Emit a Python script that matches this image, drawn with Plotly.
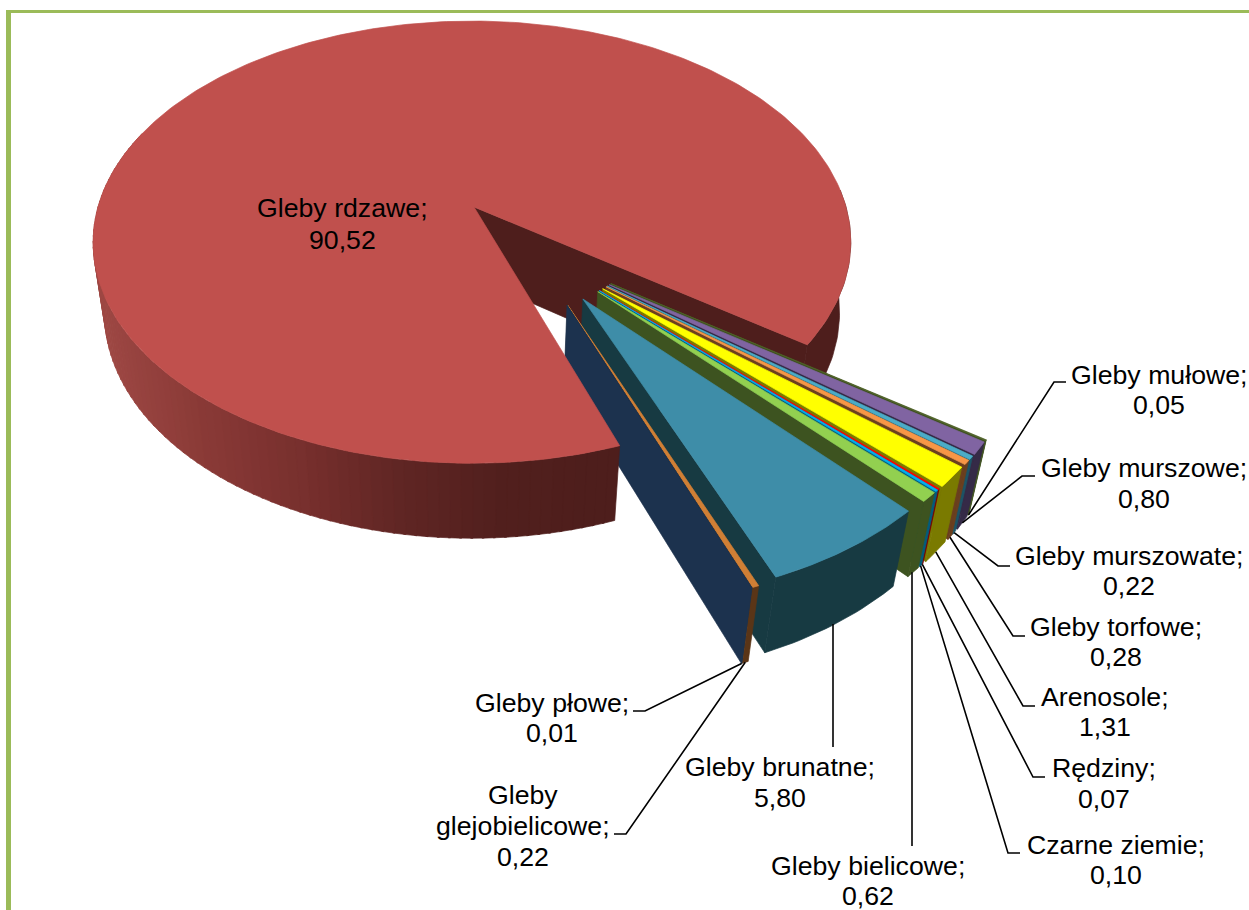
import math
import plotly.graph_objects as go

# ---- data ----
MAIN_CATEGORY = "Gleby rdzawe;"
MAIN_VALUE = 90.52
CATEGORIES = ["Gleby mułowe;", "Gleby murszowe;", "Gleby murszowate;", "Gleby torfowe;",
              "Arenosole;", "Rędziny;", "Czarne ziemie;", "Gleby bielicowe;",
              "Gleby brunatne;", "Gleby glejobielicowe;", "Gleby płowe;"]
VALUES = [0.05, 0.80, 0.22, 0.28, 1.31, 0.07, 0.10, 0.62, 5.80, 0.22, 0.01]

# ---- styles ----
TOP_COLORS = ["#4f6228", "#8064a2", "#4bacc6", "#f79646", "#ffff00", "#ff0000",
              "#00b0f0", "#92d050", "#3e8da8", "#d07f35", "#1c324e"]
WALL_COLORS = ["#3f5120", "#352a47", "#1d5566", "#6b3f1e", "#7a7a00", "#7a0000",
               "#005f80", "#3d5320", "#173a42", "#5a3517", "#1c324e"]
MAIN_TOP = "#c0504d"
MAIN_DARK = (78, 30, 28)
SHADE_X = [100, 200, 300, 400, 500, 600]
SHADE_RGB = [(158, 72, 68), (138, 58, 55), (120, 48, 46), (96, 38, 36), (82, 32, 30), (78, 30, 28)]

# ---- projection of the tilted pie ----
CX, CY = 474.0, 207.0
F, K = 374.0, 0.159
MAIN_G, SLICE_G = 215.5, 218.3
H, N = 73.0, 0.03
START = 35.1
SPREAD = 1.015
MAIN_R, SLICE_R = 1.0, 1.008
MAIN_OX = -0.0053
TRIM_START, TRIM_END = 0.6, -0.4
EXPLODE = 0.48


def project(u, v, z=0.0, g=MAIN_G):
    w = 1 - K * v + N * z
    return CX + F * u / w, CY + (g * v + H * z) / w


def polar(a, r, ox=0.0, oy=0.0):
    t = math.radians(a)
    return ox + r * math.cos(t), oy + r * math.sin(t)


fig = go.Figure()


def poly(points, color):
    xs = [p[0] for p in points] + [points[0][0]]
    ys = [p[1] for p in points] + [points[0][1]]
    fig.add_trace(go.Scatter(x=xs, y=ys, mode="lines", fill="toself", fillcolor=color,
                             line=dict(color=color, width=0.7), hoverinfo="skip", showlegend=False))


def arc(a0, a1, r, ox=0.0, oy=0.0, z=0.0, step=1.0, g=MAIN_G):
    n = max(2, int(abs(a1 - a0) / step) + 1)
    return [project(*polar(a0 + (a1 - a0) * i / (n - 1), r, ox, oy), z, g) for i in range(n)]


def rim_quad(a0, a1, r, ox, oy, color, g=MAIN_G):
    poly(arc(a0, a1, r, ox, oy, 0, g=g) + arc(a1, a0, r, ox, oy, 1, g=g), color)


def radial_wall(a, r, ox, oy, color, rx=None, g=MAIN_G):
    e = polar(a, r, ox, oy)
    rx = ox if rx is None else rx
    poly([project(rx, oy, 0, g), project(*e, 0, g), project(*e, 1, g), project(rx, oy, 1, g)], color)


def shade(x):
    if x <= SHADE_X[0]:
        return "rgb(%d,%d,%d)" % SHADE_RGB[0]
    for i in range(len(SHADE_X) - 1):
        if x <= SHADE_X[i + 1]:
            t = (x - SHADE_X[i]) / (SHADE_X[i + 1] - SHADE_X[i])
            c = [SHADE_RGB[i][j] + (SHADE_RGB[i + 1][j] - SHADE_RGB[i][j]) * t for j in range(3)]
            return "rgb(%d,%d,%d)" % tuple(c)
    return "rgb(%d,%d,%d)" % SHADE_RGB[-1]


small_total = sum(VALUES)
DEG = 3.6 * SPREAD
main_start = START + small_total * DEG + TRIM_START
main_end = START + 360 - TRIM_END
dark = "rgb(%d,%d,%d)" % MAIN_DARK

# back parts of the main slice, behind the exploded slices
radial_wall(main_end, MAIN_R, MAIN_OX, 0, dark, rx=0.0)
rim_quad(main_end - 360 - 40, main_end - 360, MAIN_R, MAIN_OX, 0, dark)

# exploded slices, back to front
mid_dir = START + small_total * DEG / 2
anchors = []
a = START
for value, top, wall in zip(VALUES, TOP_COLORS, WALL_COLORS):
    a1 = a + value * DEG
    b = (a + a1) / 2
    ox, oy = polar((b + mid_dir) / 2, EXPLODE)
    rim_quad(a, a1, SLICE_R, ox, oy, wall, g=SLICE_G)
    radial_wall(a1, SLICE_R, ox, oy, wall, g=SLICE_G)
    poly([project(ox, oy, 0, SLICE_G)] + arc(a, a1, SLICE_R, ox, oy, 0, 0.5, SLICE_G), top)
    anchors.append(project(*polar(b, SLICE_R, ox, oy), 1, SLICE_G))
    a = a1

# main slice front wall with its shading ramp, then its top
aa = main_start
while aa < 200:
    x_mid = project(*polar(aa + 0.75, MAIN_R, MAIN_OX))[0]
    rim_quad(aa, aa + 1.8, MAIN_R, MAIN_OX, 0, shade(x_mid))
    aa += 1.5
poly([project(0, 0)] + arc(main_start, main_end, MAIN_R, MAIN_OX), MAIN_TOP)

# ---- leader lines: from slice anchor to elbow and label ----
ELBOWS = [[(1054, 382), (1066, 382)], [(1022, 476), (1035, 476)], [(998, 566), (1010, 566)],
          [(1013, 636), (1025, 636)], [(1023, 706), (1035, 706)], [(1033, 777), (1045, 777)],
          [(1008, 853), (1020, 853)], [None, (912, 846)], [None, (833, 747)],
          [(626, 834), (614, 834)], [(645, 711), (633, 711)]]
for anchor, elbow in zip(anchors, ELBOWS):
    pts = [anchor]
    for p in elbow:
        if p is None:
            continue
        pts.append(p)
    if elbow[0] is None:
        pts[0] = (elbow[1][0], anchor[1])
    fig.add_trace(go.Scatter(x=[p[0] for p in pts], y=[p[1] for p in pts], mode="lines",
                             line=dict(color="black", width=1.6), hoverinfo="skip", showlegend=False))

# ---- labels ----
def fmt(v):
    return f"{v:.2f}".replace(".", ",")


LABEL_POS = [(1159, 375, 405), (1144, 468, 499), (1129, 556, 586), (1116, 627, 657),
             (1105, 697, 727), (1104, 768, 799), (1116, 845, 875), (868, 866, 896),
             (780, 767, 798), (523, 795, 857), (552, 703, 733)]


def text(x, y, s):
    fig.add_annotation(x=x, y=y, text=s, showarrow=False, xanchor="center", yanchor="middle",
                       font=dict(family="Liberation Sans", size=26.7, color="black"))


text(342, 208, MAIN_CATEGORY)
text(342, 240, fmt(MAIN_VALUE))
for cat, val, (x, y0, y1) in zip(CATEGORIES, VALUES, LABEL_POS):
    if cat == "Gleby glejobielicowe;":
        w1, w2 = cat.split(" ")
        text(x, y0, w1)
        text(x, (y0 + y1) / 2, w2)
    else:
        text(x, y0, cat)
    text(x, y1, fmt(val))

fig.update_layout(
    width=1249, height=910, margin=dict(l=0, r=0, t=0, b=0),
    paper_bgcolor="white", plot_bgcolor="white", showlegend=False,
    xaxis=dict(range=[0, 1249], visible=False, fixedrange=True),
    yaxis=dict(range=[910, 0], visible=False, fixedrange=True),
    shapes=[
        dict(type="rect", x0=6, x1=1249, y0=10, y1=13, fillcolor="#9bbb59", line_width=0, layer="below"),
        dict(type="rect", x0=6, x1=11, y0=10, y1=910, fillcolor="#9bbb59", line_width=0, layer="below"),
    ],
)
fig.write_html("out.html", config={"displayModeBar": False},
               post_script="document.body.style.margin='0';")
